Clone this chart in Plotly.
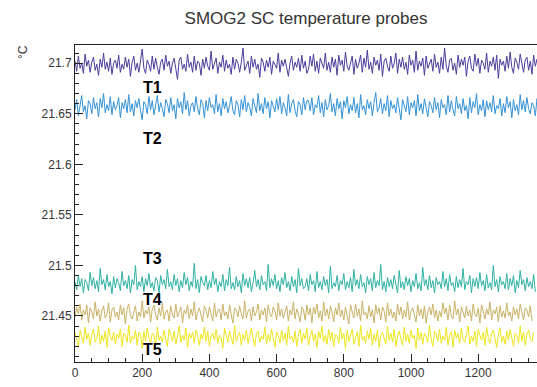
import plotly.graph_objects as go

TIME_STEP = 5  # s between samples

T1 = [21.702, 21.692, 21.707, 21.695, 21.700, 21.690, 21.709, 21.697, 21.703, 21.691, 21.701, 21.706, 21.693, 21.699, 21.688, 21.704, 21.696, 21.710, 21.694, 21.701,
      21.692, 21.705, 21.689, 21.700, 21.703, 21.695, 21.708, 21.691, 21.699, 21.694, 21.706, 21.696, 21.704, 21.687, 21.701, 21.707, 21.693, 21.700, 21.691, 21.702,
      21.714, 21.695, 21.690, 21.703, 21.699, 21.692, 21.707, 21.694, 21.705, 21.696, 21.689, 21.701, 21.704, 21.693, 21.708, 21.697, 21.702, 21.690, 21.700, 21.705,
      21.695, 21.684, 21.703, 21.706, 21.694, 21.699, 21.692, 21.709, 21.696, 21.701, 21.691, 21.707, 21.693, 21.702, 21.700, 21.688, 21.704, 21.695, 21.706, 21.697,
      21.693, 21.712, 21.694, 21.700, 21.705, 21.690, 21.701, 21.696, 21.708, 21.692, 21.703, 21.695, 21.699, 21.689, 21.706, 21.694, 21.704, 21.700, 21.691, 21.701,
      21.715, 21.693, 21.697, 21.702, 21.690, 21.707, 21.696, 21.704, 21.694, 21.699, 21.686, 21.705, 21.701, 21.692, 21.703, 21.696, 21.706, 21.689, 21.702, 21.699,
      21.695, 21.710, 21.691, 21.703, 21.697, 21.704, 21.694, 21.687, 21.700, 21.707, 21.693, 21.701, 21.696, 21.705, 21.692, 21.708, 21.695, 21.702, 21.690,
      21.694, 21.707, 21.697, 21.709, 21.692, 21.702, 21.690, 21.705, 21.700, 21.695, 21.710, 21.693, 21.701, 21.691, 21.706, 21.696, 21.704, 21.688, 21.708, 21.698,
      21.703, 21.692, 21.711, 21.697, 21.693, 21.702, 21.707, 21.689, 21.704, 21.695, 21.700, 21.708, 21.691, 21.705, 21.696, 21.713, 21.694, 21.701, 21.690, 21.706,
      21.698, 21.703, 21.693, 21.709, 21.687, 21.702, 21.705, 21.697, 21.692, 21.707, 21.695, 21.700, 21.710, 21.690, 21.704, 21.696, 21.706, 21.694, 21.701, 21.689,
      21.708, 21.698, 21.703, 21.691, 21.712, 21.693, 21.702, 21.697, 21.705, 21.688, 21.707, 21.695, 21.700, 21.704, 21.692, 21.709, 21.696, 21.701, 21.690, 21.706,
      21.694, 21.715, 21.697, 21.691, 21.703, 21.705, 21.693, 21.700, 21.689, 21.708, 21.696, 21.704, 21.698, 21.706, 21.687, 21.702, 21.707, 21.695, 21.692, 21.709,
      21.697, 21.705, 21.690, 21.703, 21.700, 21.694, 21.710, 21.691, 21.702, 21.697, 21.706, 21.693, 21.708, 21.685, 21.704, 21.698, 21.702, 21.692, 21.707, 21.695,
      21.711, 21.696, 21.690, 21.705, 21.701, 21.694, 21.709, 21.698, 21.691, 21.703, 21.706, 21.693, 21.702, 21.689, 21.708, 21.697, 21.704, 21.695]

T2 = [21.654, 21.664, 21.648, 21.659, 21.668, 21.652, 21.658, 21.645, 21.663, 21.660, 21.650, 21.666, 21.655, 21.661, 21.647, 21.665, 21.656, 21.670, 21.651, 21.659,
      21.653, 21.667, 21.649, 21.662, 21.654, 21.658, 21.666, 21.646, 21.661, 21.655, 21.664, 21.651, 21.669, 21.652, 21.660, 21.648, 21.663, 21.656, 21.665, 21.653,
      21.644, 21.662, 21.659, 21.650, 21.667, 21.654, 21.663, 21.649, 21.658, 21.668, 21.652, 21.661, 21.655, 21.647, 21.664, 21.660, 21.651, 21.666, 21.653, 21.659,
      21.645, 21.665, 21.656, 21.662, 21.650, 21.671, 21.654, 21.663, 21.648, 21.658, 21.661, 21.652, 21.667, 21.655, 21.649, 21.664, 21.660, 21.646, 21.663, 21.653,
      21.666, 21.656, 21.659, 21.650, 21.669, 21.652, 21.660, 21.648, 21.665, 21.655, 21.662, 21.651, 21.658, 21.667, 21.653, 21.649, 21.663, 21.659, 21.647, 21.664,
      21.654, 21.668, 21.652, 21.661, 21.656, 21.648, 21.665, 21.659, 21.651, 21.670, 21.653, 21.660, 21.650, 21.666, 21.655, 21.662, 21.646, 21.663, 21.658, 21.652,
      21.665, 21.654, 21.667, 21.650, 21.661, 21.656, 21.648, 21.669, 21.651, 21.660, 21.664, 21.653, 21.647, 21.662, 21.659, 21.649, 21.666, 21.654, 21.663,
      21.663, 21.653, 21.666, 21.649, 21.659, 21.656, 21.668, 21.651, 21.661, 21.647, 21.664, 21.654, 21.658, 21.670, 21.652, 21.660, 21.648, 21.665, 21.655, 21.662,
      21.645, 21.663, 21.656, 21.667, 21.650, 21.659, 21.653, 21.666, 21.651, 21.660, 21.646, 21.669, 21.654, 21.658, 21.649, 21.664, 21.655, 21.662, 21.648, 21.661,
      21.671, 21.652, 21.656, 21.665, 21.650, 21.660, 21.653, 21.668, 21.647, 21.663, 21.655, 21.659, 21.651, 21.666, 21.654, 21.644, 21.664, 21.658, 21.652, 21.667,
      21.649, 21.661, 21.656, 21.663, 21.648, 21.669, 21.653, 21.660, 21.650, 21.665, 21.655, 21.647, 21.662, 21.658, 21.651, 21.666, 21.654, 21.661, 21.646, 21.664,
      21.656, 21.659, 21.649, 21.668, 21.652, 21.663, 21.654, 21.648, 21.667, 21.655, 21.660, 21.650, 21.665, 21.653, 21.658, 21.645, 21.666, 21.651, 21.662, 21.656,
      21.670, 21.649, 21.659, 21.653, 21.664, 21.647, 21.663, 21.654, 21.661, 21.652, 21.668, 21.650, 21.658, 21.655, 21.665, 21.648, 21.660, 21.651, 21.667, 21.656,
      21.662, 21.646, 21.664, 21.653, 21.659, 21.649, 21.669, 21.654, 21.663, 21.652, 21.666, 21.655, 21.650, 21.661, 21.658, 21.648, 21.665, 21.653]

T3 = [21.484, 21.476, 21.490, 21.479, 21.487, 21.473, 21.486, 21.483, 21.475, 21.493, 21.480, 21.488, 21.477, 21.485, 21.474, 21.497, 21.481, 21.486, 21.476, 21.491,
      21.479, 21.484, 21.472, 21.489, 21.478, 21.487, 21.483, 21.475, 21.494, 21.480, 21.485, 21.477, 21.490, 21.473, 21.486, 21.481, 21.500, 21.476, 21.484, 21.479,
      21.489, 21.474, 21.487, 21.480, 21.492, 21.478, 21.483, 21.475, 21.488, 21.485, 21.473, 21.490, 21.481, 21.486, 21.477, 21.496, 21.479, 21.484, 21.476, 21.491,
      21.480, 21.487, 21.474, 21.485, 21.478, 21.493, 21.481, 21.488, 21.475, 21.484, 21.479, 21.502, 21.477, 21.486, 21.473, 21.489, 21.483, 21.480, 21.490, 21.476,
      21.485, 21.478, 21.494, 21.481, 21.487, 21.474, 21.484, 21.479, 21.491, 21.475, 21.486, 21.480, 21.498, 21.477, 21.483, 21.476, 21.489, 21.479, 21.485, 21.473,
      21.492, 21.480, 21.487, 21.478, 21.488, 21.474, 21.483, 21.495, 21.479, 21.486, 21.476, 21.490, 21.481, 21.484, 21.475, 21.501, 21.478, 21.487, 21.480, 21.491,
      21.477, 21.485, 21.474, 21.488, 21.481, 21.493, 21.478, 21.484, 21.475, 21.489, 21.479, 21.486, 21.473, 21.497, 21.480, 21.487, 21.477,
      21.479, 21.487, 21.475, 21.491, 21.481, 21.485, 21.474, 21.494, 21.478, 21.484, 21.476, 21.489, 21.480, 21.486, 21.473, 21.499, 21.477, 21.483, 21.479, 21.490,
      21.475, 21.485, 21.481, 21.492, 21.476, 21.484, 21.478, 21.488, 21.474, 21.496, 21.480, 21.486, 21.477, 21.491, 21.479, 21.483, 21.473, 21.489, 21.481, 21.487,
      21.475, 21.493, 21.478, 21.485, 21.480, 21.501, 21.476, 21.484, 21.474, 21.488, 21.479, 21.486, 21.477, 21.490, 21.481, 21.473, 21.495, 21.478, 21.484, 21.476,
      21.489, 21.480, 21.487, 21.474, 21.485, 21.479, 21.492, 21.477, 21.483, 21.475, 21.498, 21.480, 21.486, 21.476, 21.490, 21.478, 21.485, 21.473, 21.488, 21.481,
      21.484, 21.477, 21.494, 21.479, 21.487, 21.475, 21.491, 21.480, 21.483, 21.474, 21.489, 21.478, 21.486, 21.479, 21.497, 21.476, 21.484, 21.481, 21.490, 21.473,
      21.487, 21.479, 21.488, 21.477, 21.493, 21.480, 21.485, 21.475, 21.491, 21.478, 21.483, 21.476, 21.500, 21.479, 21.486, 21.474, 21.489, 21.481, 21.484, 21.477,
      21.492, 21.476, 21.487, 21.480, 21.490, 21.473, 21.485, 21.478, 21.495, 21.481, 21.486, 21.475, 21.488, 21.479, 21.484, 21.477, 21.491, 21.474]

T4 = [21.449, 21.459, 21.452, 21.462, 21.446, 21.456, 21.451, 21.461, 21.443, 21.458, 21.454, 21.447, 21.464, 21.450, 21.457, 21.445, 21.455, 21.460, 21.448, 21.452,
      21.463, 21.444, 21.456, 21.459, 21.449, 21.454, 21.446, 21.461, 21.451, 21.458, 21.442, 21.457, 21.462, 21.450, 21.447, 21.455, 21.460, 21.445, 21.454, 21.449,
      21.465, 21.448, 21.456, 21.452, 21.459, 21.444, 21.457, 21.461, 21.451, 21.446, 21.458, 21.450, 21.463, 21.447, 21.454, 21.456, 21.445, 21.460, 21.451, 21.448,
      21.462, 21.449, 21.455, 21.459, 21.443, 21.456, 21.452, 21.461, 21.447, 21.457, 21.450, 21.464, 21.446, 21.454, 21.458, 21.451, 21.444, 21.460, 21.456, 21.448,
      21.459, 21.452, 21.445, 21.463, 21.449, 21.455, 21.457, 21.446, 21.462, 21.450, 21.454, 21.447, 21.461, 21.451, 21.443, 21.458, 21.456, 21.449, 21.460, 21.452,
      21.447, 21.465, 21.448, 21.455, 21.457, 21.445, 21.459, 21.450, 21.454, 21.462, 21.446, 21.456, 21.451, 21.458, 21.444, 21.461, 21.452, 21.449, 21.459, 21.455,
      21.446, 21.463, 21.450, 21.457, 21.448, 21.454, 21.460, 21.445, 21.456, 21.451, 21.464, 21.447, 21.457, 21.452, 21.444, 21.459,
      21.456, 21.446, 21.461, 21.451, 21.458, 21.443, 21.459, 21.452, 21.462, 21.448, 21.455, 21.445, 21.464, 21.450, 21.457, 21.447, 21.460, 21.454, 21.444, 21.458,
      21.451, 21.463, 21.449, 21.456, 21.446, 21.459, 21.452, 21.442, 21.461, 21.455, 21.448, 21.462, 21.450, 21.457, 21.445, 21.465, 21.451, 21.454, 21.447, 21.460,
      21.449, 21.456, 21.443, 21.461, 21.452, 21.458, 21.446, 21.459, 21.455, 21.444, 21.463, 21.450, 21.457, 21.448, 21.454, 21.445, 21.462, 21.451, 21.459, 21.447,
      21.456, 21.449, 21.464, 21.446, 21.455, 21.458, 21.452, 21.444, 21.461, 21.450, 21.457, 21.447, 21.460, 21.443, 21.454, 21.459, 21.451, 21.462, 21.448, 21.456,
      21.445, 21.455, 21.449, 21.463, 21.452, 21.458, 21.446, 21.461, 21.450, 21.447, 21.465, 21.451, 21.457, 21.444, 21.459, 21.454, 21.448, 21.460, 21.450, 21.456,
      21.445, 21.462, 21.452, 21.449, 21.458, 21.443, 21.461, 21.455, 21.447, 21.457, 21.451, 21.464, 21.446, 21.456, 21.452, 21.459, 21.444, 21.460, 21.449, 21.455,
      21.448, 21.463, 21.450, 21.454, 21.445, 21.459, 21.451, 21.457, 21.447, 21.462, 21.452, 21.446, 21.458, 21.456, 21.449, 21.460, 21.445]

T5 = [21.434, 21.426, 21.420, 21.436, 21.430, 21.423, 21.439, 21.427, 21.433, 21.421, 21.432, 21.437, 21.424, 21.428, 21.440, 21.422, 21.431, 21.425, 21.435, 21.419,
      21.438, 21.430, 21.426, 21.434, 21.422, 21.432, 21.428, 21.437, 21.420, 21.433, 21.431, 21.424, 21.441, 21.423, 21.430, 21.427, 21.436, 21.421, 21.434, 21.432,
      21.418, 21.435, 21.425, 21.438, 21.428, 21.423, 21.433, 21.431, 21.421, 21.439, 21.426, 21.430, 21.424, 21.436, 21.427, 21.420, 21.437, 21.432, 21.425, 21.435,
      21.422, 21.430, 21.440, 21.424, 21.431, 21.426, 21.438, 21.419, 21.433, 21.428, 21.434, 21.423, 21.436, 21.431, 21.421, 21.432, 21.427, 21.439, 21.425, 21.435,
      21.420, 21.430, 21.433, 21.426, 21.437, 21.423, 21.431, 21.428, 21.418, 21.438, 21.432, 21.424, 21.435, 21.427, 21.422, 21.441, 21.425, 21.430, 21.434, 21.421,
      21.432, 21.426, 21.436, 21.423, 21.431, 21.438, 21.428, 21.420, 21.433, 21.435, 21.424, 21.430, 21.427, 21.439, 21.422, 21.432, 21.425, 21.437, 21.428, 21.419,
      21.434, 21.431, 21.423, 21.436, 21.426, 21.433, 21.421, 21.440, 21.427, 21.430, 21.424, 21.435, 21.420, 21.432, 21.437,
      21.423, 21.433, 21.427, 21.438, 21.421, 21.430, 21.436, 21.425, 21.432, 21.419, 21.435, 21.428, 21.440, 21.424, 21.431, 21.422, 21.437, 21.426, 21.434, 21.420,
      21.432, 21.430, 21.423, 21.439, 21.427, 21.433, 21.418, 21.436, 21.425, 21.431, 21.437, 21.422, 21.428, 21.434, 21.420, 21.441, 21.426, 21.430, 21.423, 21.435,
      21.427, 21.438, 21.421, 21.432, 21.425, 21.436, 21.419, 21.431, 21.434, 21.428, 21.422, 21.440, 21.426, 21.433, 21.424, 21.437, 21.420, 21.430, 21.435, 21.427,
      21.421, 21.439, 21.425, 21.432, 21.423, 21.436, 21.428, 21.431, 21.418, 21.438, 21.426, 21.434, 21.422, 21.433, 21.430, 21.424, 21.441, 21.427, 21.420, 21.435,
      21.432, 21.425, 21.437, 21.423, 21.430, 21.426, 21.439, 21.421, 21.431, 21.434, 21.419, 21.436, 21.428, 21.433, 21.423, 21.438, 21.427, 21.424, 21.432, 21.440,
      21.422, 21.430, 21.425, 21.435, 21.420, 21.437, 21.431, 21.426, 21.434, 21.421, 21.439, 21.428, 21.423, 21.433, 21.436, 21.427, 21.419, 21.432, 21.438, 21.424,
      21.430, 21.422, 21.435, 21.426, 21.437, 21.428, 21.420, 21.433, 21.431, 21.423, 21.440, 21.425, 21.434, 21.421, 21.432, 21.436, 21.427, 21.425, 21.434]

SERIES = [("T1", T1, "#4e3b9c", 21.676), ("T2", T2, "#3592d6", 21.626),
          ("T3", T3, "#2fb1a2", 21.507), ("T4", T4, "#c9b266", 21.4664),
          ("T5", T5, "#eee61c", 21.4164)]
LABEL_X = 232

Y_TICKS = [21.45, 21.5, 21.55, 21.6, 21.65, 21.7]
Y_TICK_TEXT = ["21.45", "21.5", "21.55", "21.6", "21.65", "21.7"]
X_TICKS = [0, 200, 400, 600, 800, 1000, 1200]

FONT = "Liberation Sans, Arial, sans-serif"

fig = go.Figure()
for name, vals, color, ly in SERIES:
    t = [i * TIME_STEP for i in range(len(vals))]
    fig.add_trace(go.Scatter(x=t, y=vals, mode="lines", name=name,
                             line=dict(color=color, width=1)))
    fig.add_annotation(x=LABEL_X, y=ly, text="<b>%s</b>" % name, showarrow=False,
                       font=dict(family=FONT, size=16, color="black"))

axis_font = dict(family=FONT, size=12, color="#333")
fig.update_layout(
    width=537, height=387,
    margin=dict(l=75, r=0, t=45, b=25),
    paper_bgcolor="white", plot_bgcolor="white",
    showlegend=False,
    title=dict(text="SMOG2 SC temperature probes", x=0.5, xref="paper",
               y=1 - 18 / 387, yref="container", yanchor="middle",
               font=dict(family=FONT, size=17, color="#333")),
    xaxis=dict(range=[0, 1375], showgrid=False, zeroline=False,
               showline=True, linecolor="#222", linewidth=1, mirror=True,
               ticks="inside", ticklen=8, tickcolor="#222",
               tickvals=X_TICKS, tickfont=axis_font,
               minor=dict(ticks="inside", ticklen=4, dtick=50, tickcolor="#222")),
    yaxis=dict(range=[21.4045, 21.718], showgrid=False, zeroline=False,
               showline=True, linecolor="#222", linewidth=1,
               ticks="inside", ticklen=8, tickcolor="#222",
               tickvals=Y_TICKS, ticktext=Y_TICK_TEXT, tickfont=axis_font,
               minor=dict(ticks="inside", ticklen=4, dtick=0.01, tickcolor="#222")),
)
fig.add_annotation(x=(14 - 75) / 462, y=(362 - 43) / 317, xref="paper", yref="paper",
                   text="°C", textangle=-90, showarrow=False,
                   font=dict(family=FONT, size=12, color="#333"))
fig.write_html("out.html", config={"displayModeBar": False})
